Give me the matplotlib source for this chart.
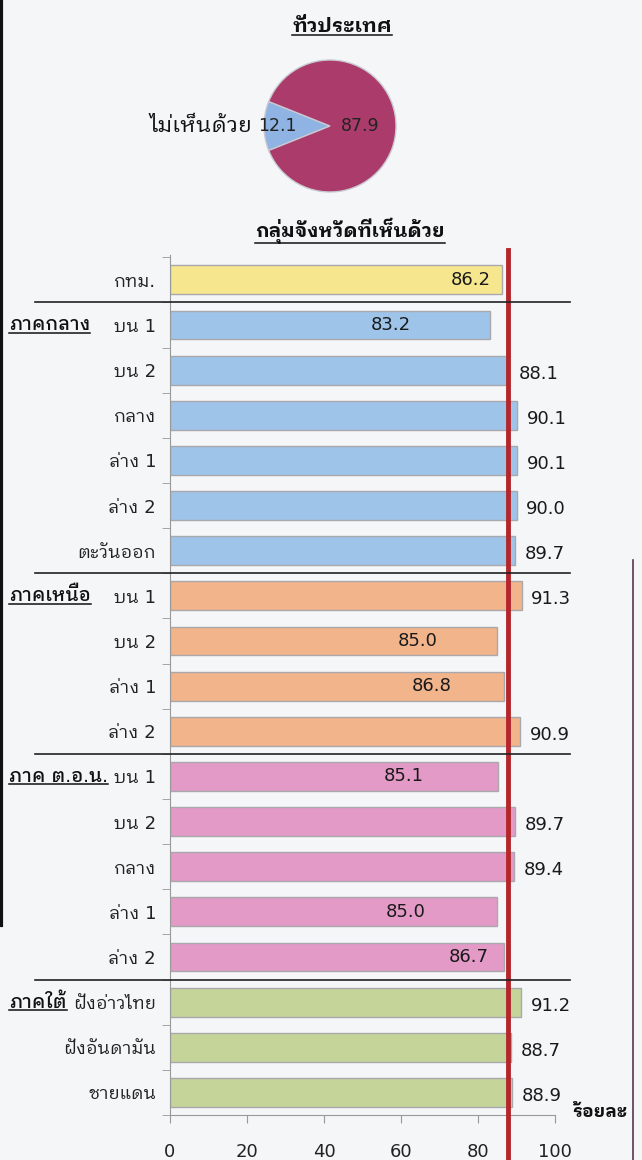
import matplotlib
matplotlib.use("Agg")
import matplotlib.pyplot as plt
import matplotlib.transforms as mtransforms
from matplotlib.lines import Line2D

plt.rcParams['font.family'] = ['DejaVu Sans', 'IBM Plex Sans Thai Looped']

# whole-country pie
pie_labels = ['ไม่เห็นด้วย', 'เห็นด้วย']
pie_values = [12.1, 87.9]
national = 87.9

# province groups (agree, %)
categories = ['กทม.',
              'บน 1', 'บน 2', 'กลาง', 'ล่าง 1', 'ล่าง 2', 'ตะวันออก',
              'บน 1', 'บน 2', 'ล่าง 1', 'ล่าง 2',
              'บน 1', 'บน 2', 'กลาง', 'ล่าง 1', 'ล่าง 2',
              'ฝั่งอ่าวไทย', 'ฝั่งอันดามัน', 'ชายแดน']
regions = ['bkk',
           'central', 'central', 'central', 'central', 'central', 'central',
           'north', 'north', 'north', 'north',
           'ne', 'ne', 'ne', 'ne', 'ne',
           'south', 'south', 'south']
values = [86.2,
          83.2, 88.1, 90.1, 90.1, 90.0, 89.7,
          91.3, 85.0, 86.8, 90.9,
          85.1, 89.7, 89.4, 85.0, 86.7,
          91.2, 88.7, 88.9]
region_names = {'central': 'ภาคกลาง', 'north': 'ภาคเหนือ',
                'ne': 'ภาค ต.อ.น.', 'south': 'ภาคใต้'}

region_colors = {'bkk': '#f6e68e', 'central': '#9fc4ea', 'north': '#f2b48a',
                 'ne': '#e39ac6', 'south': '#c5d59a'}
# where the labels that sit inside the bars go (x in %)
inside_label_x = {0: 78.2, 1: 57.4, 8: 64.4, 9: 68.1, 11: 60.8, 14: 61.3, 15: 77.7}

W, H = 642, 1160
bg = '#f5f6f8'
fig = plt.figure(figsize=(W / 100, H / 100), dpi=100, facecolor=bg)


def fx(px):
    return px / W


def fy(py):
    return 1 - py / H


# ---- pie ----
r = 66
cx, cy = 330, 126
pax = fig.add_axes([fx(cx - r), fy(cy + r), 2 * r / W, 2 * r / H])
pax.pie(pie_values, colors=['#8fb3e2', '#ab3b6a'], startangle=180 - pie_values[0] * 1.8,
        wedgeprops=dict(edgecolor='#c9c9d2', linewidth=1))
pax.set_xlim(-1, 1)
pax.set_ylim(-1, 1)
pax.set_aspect('auto')
pax.axis('off')
pax.text(-0.80, 0, f'{pie_values[0]:.1f}', ha='center', va='center', fontsize=12.5, color='#222')
pax.text(0.45, 0, f'{pie_values[1]:.1f}', ha='center', va='center', fontsize=12.5, color='#222')
pax.text(-1.18, 0, pie_labels[0], ha='right', va='center', fontsize=16, color='#111', clip_on=False)

t_title = fig.text(fx(342), fy(27), 'ทั่วประเทศ', ha='center', va='center',
                   fontsize=14.5, fontweight='bold', color='#111')
t_sub = fig.text(fx(350), fy(231), 'กลุ่มจังหวัดที่เห็นด้วย', ha='center', va='center',
                 fontsize=14, fontweight='bold', color='#111')

# ---- bars ----
top, bottom = 255, 1115
x0px, x100px = 170, 555
ax = fig.add_axes([fx(x0px), fy(bottom), (x100px - x0px) / W, (bottom - top) / H])
ax.set_facecolor('none')
n = len(values)
ypos = list(range(n))
ax.barh(ypos, values, height=0.64, color=[region_colors[g] for g in regions],
        edgecolor='#a9a9ad', linewidth=1.0, zorder=2)
ax.set_xlim(0, 100)
ax.set_ylim(n - 1 + 0.5, -0.55)

ax.axvline(national, ymin=-0.06, ymax=1.006, color='#b3262c', linewidth=3.5,
           clip_on=False, zorder=3)

for i, v in enumerate(values):
    if i in inside_label_x:
        ax.text(inside_label_x[i], i, f'{v:.1f}', ha='center', va='center',
                fontsize=13, color='#1a1a1a', zorder=4)
    else:
        ax.text(v + 2.5, i + 0.08, f'{v:.1f}', ha='left', va='center',
                fontsize=13, color='#1a1a1a', zorder=4)

ax.set_yticks(ypos)
ax.set_yticklabels(categories, fontsize=13, color='#222')
ax.set_yticks([k + 0.5 for k in range(-1, n)], minor=True)
ax.tick_params(axis='y', which='major', length=0, pad=10)
ax.tick_params(axis='y', which='minor', length=6, color='#999', direction='out')
ax.set_xticks(range(0, 101, 20))
ax.tick_params(axis='x', which='major', length=6, direction='out', color='#999',
               labelsize=13, labelcolor='#222', pad=14)
for s in ['top', 'right']:
    ax.spines[s].set_visible(False)
ax.spines['left'].set_color('#999')
ax.spines['bottom'].set_color('#999')

# group separators and region names
trans = mtransforms.blended_transform_factory(fig.transFigure, ax.transData)
prev = regions[0]
region_texts = []
for i, g in enumerate(regions):
    if g != prev:
        ax.add_line(Line2D([fx(35), fx(570)], [i - 0.5, i - 0.5], transform=trans,
                           color='#222', linewidth=1.2, clip_on=False, zorder=5))
        region_texts.append(ax.text(fx(9), i, region_names[g], transform=trans,
                                    ha='left', va='center', fontsize=13.5,
                                    fontweight='medium', color='#111'))
    prev = g

fig.text(fx(627), fy(1112), 'ร้อยละ', ha='right', va='center', fontsize=13,
         fontweight='bold', color='#111')

# underline titles and region names
fig.canvas.draw()
renderer = fig.canvas.get_renderer()
inv = fig.transFigure.inverted()
for t in [t_title, t_sub] + region_texts:
    bb = t.get_window_extent(renderer)
    (ux0, uy), (ux1, _) = inv.transform([[bb.x0, bb.y0], [bb.x1, bb.y0]])
    fig.add_artist(Line2D([ux0, ux1], [uy + 0.0015, uy + 0.0015], transform=fig.transFigure,
                          color='#111', linewidth=1.1))

# scan edges
fig.add_artist(Line2D([fx(1.5), fx(1.5)], [fy(0), fy(925)], transform=fig.transFigure,
                      color='#111', linewidth=3))
fig.add_artist(Line2D([fx(633), fx(633)], [fy(560), fy(1160)], transform=fig.transFigure,
                      color='#5a3550', linewidth=1.2))

fig.savefig('out.png', dpi=100, facecolor=bg)
